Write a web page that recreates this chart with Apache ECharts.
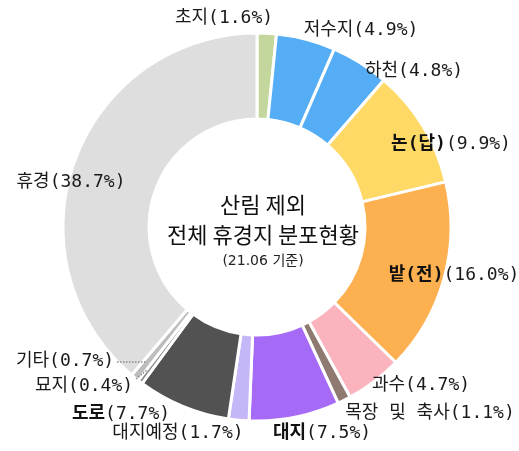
<!DOCTYPE html>
<html><head><meta charset="utf-8">
<script src="https://cdn.jsdelivr.net/npm/echarts@6/dist/echarts.min.js"></script>
<style>html,body{margin:0;padding:0;background:#fff;}#c{width:519px;height:451px;}</style>
</head><body><div id="c"></div>
<script>
const categories = ['초지','저수지','하천','논(답)','밭(전)','과수','목장 및 축사','대지','대지예정','도로','묘지','기타','휴경'];
const values = [1.6,4.9,4.8,9.9,16.0,4.7,1.1,7.5,1.7,7.7,0.4,0.7,38.7];
const titleLines = ['산림 제외','전체 휴경지 분포현황'];
const subTitle = '(21.06 기준)';

const colors = ['#c3d69b','#54adf5','#54adf5','#ffd966','#fdb04f','#fbb3bd','#8e7a70','#a66bf6','#c5b6f8','#525252','#8a8a8a','#bdbdbd','#dedede'];
const boldIdx = [3,4,7,9];
const labelPos = [[224,18],[361,30],[414,71],[451,144],[454,275],[421,385],[430,413],[322,433],[178,433],[121,414],[84,386],[65,361],[71,182]];
// dotted leader lines for the two smallest slices (묘지, 기타)
const leaderLines = [[[136,379],[147,370]], [[117,362],[146,362]]];

const FONT = "'DejaVu Sans Mono','Noto Sans CJK KR',sans-serif";
const data = categories.map((n,i)=>({
  name:n, value:values[i],
  itemStyle:{color:colors[i]}
}));

const chart = echarts.init(document.getElementById('c'));
chart.setOption({
  animation:false,
  title:{
    text: titleLines.join('\n'),
    subtext: subTitle,
    left: 258, top: 185, textAlign:'center',
    textStyle:{fontFamily:"'Noto Sans CJK KR',sans-serif", fontSize:22, fontWeight:'normal', color:'#111', lineHeight:30},
    subtextStyle:{fontFamily:"'DejaVu Sans','Noto Sans CJK KR',sans-serif", fontSize:14, color:'#222', lineHeight:16},
    itemGap:3
  },
  graphic: leaderLines.map(pts=>({
    type:'polyline', z:10, silent:true,
    shape:{points:pts},
    style:{stroke:'#8c8c8c', lineWidth:1.5, lineDash:[1.5,1.5], fill:null}
  })),
  series:[{
    type:'pie',
    center:[257,227],
    radius:[108,194],
    startAngle:90,
    clockwise:true,
    avoidLabelOverlap:false,
    itemStyle:{borderColor:'#fff', borderWidth:3},
    labelLine:{show:false},
    label:{
      show:true, position:'outside',
      fontFamily:FONT, fontSize:18, color:'#1a1a1a',
      formatter:(p)=>{
        const v = values[p.dataIndex].toFixed(1)+'%';
        if (boldIdx.includes(p.dataIndex)) return '{b|'+p.name+'}{n|('+v+')}';
        return '{n|'+p.name+'('+v+')}';
      },
      rich:{
        b:{fontFamily:FONT, fontSize:18, fontWeight:'bold', color:'#111'},
        n:{fontFamily:FONT, fontSize:18, color:'#1a1a1a'}
      }
    },
    labelLayout:(params)=>{
      const p = labelPos[params.dataIndex];
      return {x:p[0], y:p[1], align:'center', verticalAlign:'middle'};
    },
    data:data
  }]
});
</script></body></html>
